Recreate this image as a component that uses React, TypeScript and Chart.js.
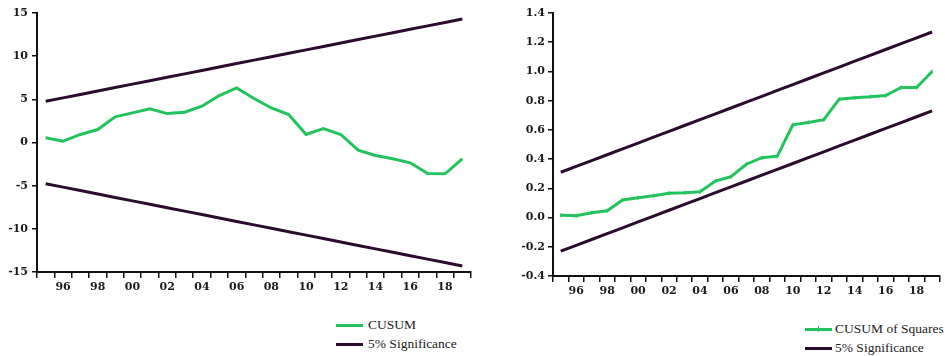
import React, { useEffect, useRef } from 'react';
import { Chart, registerables } from 'chart.js';

Chart.register(...registerables);

// ---------- data ----------
const years = [
  1995, 1996, 1997, 1998, 1999, 2000, 2001, 2002, 2003, 2004, 2005, 2006, 2007,
  2008, 2009, 2010, 2011, 2012, 2013, 2014, 2015, 2016, 2017, 2018, 2019,
];

const cusum = [
  0.54, 0.15, 0.93, 1.5, 2.97, 3.43, 3.9, 3.35, 3.5, 4.2, 5.44, 6.33, 5.1,
  4.0, 3.24, 0.93, 1.62, 0.93, -0.89, -1.5, -1.89, -2.35, -3.59, -3.63, -1.89,
];
const cusumUpper = [
  4.77, 5.17, 5.56, 5.96, 6.36, 6.76, 7.15, 7.55, 7.95, 8.35, 8.74, 9.14, 9.54,
  9.94, 10.33, 10.73, 11.13, 11.53, 11.92, 12.32, 12.72, 13.12, 13.51, 13.91, 14.31,
];
const cusumLower = [
  -4.77, -5.17, -5.56, -5.96, -6.36, -6.76, -7.15, -7.55, -7.95, -8.35, -8.74, -9.14, -9.54,
  -9.94, -10.33, -10.73, -11.13, -11.53, -11.92, -12.32, -12.72, -13.12, -13.51, -13.91, -14.31,
];

const cusumSq = [
  0.015, 0.013, 0.033, 0.047, 0.12, 0.136, 0.15, 0.166, 0.17, 0.177, 0.25, 0.28, 0.365,
  0.41, 0.42, 0.635, 0.65, 0.67, 0.81, 0.82, 0.826, 0.835, 0.89, 0.89, 1.0,
];
const sqUpper = [
  0.31, 0.35, 0.39, 0.43, 0.47, 0.51, 0.55, 0.59, 0.63, 0.67, 0.71, 0.75, 0.79,
  0.83, 0.87, 0.91, 0.95, 0.99, 1.03, 1.07, 1.11, 1.15, 1.19, 1.23, 1.27,
];
const sqLower = [
  -0.23, -0.19, -0.15, -0.11, -0.07, -0.03, 0.01, 0.05, 0.09, 0.13, 0.17, 0.21, 0.25,
  0.29, 0.33, 0.37, 0.41, 0.45, 0.49, 0.53, 0.57, 0.61, 0.65, 0.69, 0.73,
];

const leftLegend = ['CUSUM', '5% Significance'];
const rightLegend = ['CUSUM of Squares', '5% Significance'];

// ---------- style ----------
const GREEN = '#22c35c';
const DARK = '#2a0c2c';
const TEXT = '#1a1a1a';
const TICK_FONT = { family: '"DejaVu Serif", "Liberation Serif", serif', size: 11, weight: 'bold' as const };

function yearLabel(v: number): string {
  if (v % 2 === 1) return '';
  return String(v % 100).padStart(2, '0');
}

function buildOptions(opts: {
  yMin: number; yMax: number; step: number; yWidth: number; xHeight: number;
  padRight: number; fmt: (v: number) => string; yPad: number;
}) {
  return {
    responsive: false,
    animation: false as const,
    layout: { padding: { top: 13, right: opts.padRight, bottom: 0, left: 0 } },
    plugins: { legend: { display: false }, tooltip: { enabled: false } },
    scales: {
      x: {
        type: 'category' as const,
        offset: true,
        grid: {
          offset: true,
          drawOnChartArea: false,
          drawTicks: true,
          tickLength: 6,
          color: '#111',
          lineWidth: 1.5,
        },
        border: { display: true, color: '#111', width: 2 },
        ticks: {
          autoSkip: false,
          maxRotation: 0,
          padding: 3,
          color: TEXT,
          font: TICK_FONT,
          callback: function (this: any, _v: any, i: number) {
            return yearLabel(years[i]);
          },
        },
        afterFit: (s: any) => { s.height = opts.xHeight; },
      },
      y: {
        type: 'linear' as const,
        min: opts.yMin,
        max: opts.yMax,
        grid: {
          drawOnChartArea: false,
          drawTicks: true,
          tickLength: 5,
          color: '#111',
          lineWidth: 1.5,
        },
        border: { display: true, color: '#111', width: 2 },
        ticks: {
          stepSize: opts.step,
          padding: opts.yPad,
          color: TEXT,
          font: TICK_FONT,
          callback: (v: any) => opts.fmt(Number(v)),
        },
        afterFit: (s: any) => { s.width = opts.yWidth; },
      },
    },
  };
}

function LeftChart() {
  const ref = useRef<HTMLCanvasElement | null>(null);
  useEffect(() => {
    if (!ref.current) return;
    const chart = new Chart(ref.current, {
      type: 'line',
      data: {
        labels: years.map(String),
        datasets: [
          { label: leftLegend[0], data: cusum, borderColor: GREEN, borderWidth: 3, pointRadius: 0, tension: 0 },
          { label: leftLegend[1], data: cusumUpper, borderColor: DARK, borderWidth: 3, pointRadius: 0 },
          { label: leftLegend[1], data: cusumLower, borderColor: DARK, borderWidth: 3, pointRadius: 0 },
        ],
      },
      options: buildOptions({
        yMin: -15, yMax: 15, step: 5, yWidth: 37, xHeight: 28, padRight: 9, yPad: 4,
        fmt: (v) => String(Math.round(v)),
      }) as any,
    });
    return () => chart.destroy();
  }, []);
  return (
    <canvas ref={ref} width={480} height={300}
      style={{ position: 'absolute', left: 0, top: 0, width: 480, height: 300 }} />
  );
}

function RightChart() {
  const ref = useRef<HTMLCanvasElement | null>(null);
  useEffect(() => {
    if (!ref.current) return;
    const chart = new Chart(ref.current, {
      type: 'line',
      data: {
        labels: years.map(String),
        datasets: [
          {
            label: rightLegend[0], data: cusumSq, borderColor: GREEN, borderWidth: 3,
            pointStyle: 'line', rotation: 90, pointRadius: 2, pointBorderWidth: 1.2,
            pointBorderColor: GREEN, tension: 0,
          },
          { label: rightLegend[1], data: sqUpper, borderColor: DARK, borderWidth: 3, pointRadius: 0 },
          { label: rightLegend[1], data: sqLower, borderColor: DARK, borderWidth: 3, pointRadius: 0 },
        ],
      },
      options: buildOptions({
        yMin: -0.4, yMax: 1.4, step: 0.2, yWidth: 73, xHeight: 24, padRight: 0, yPad: 3,
        fmt: (v) => (Math.abs(v) < 1e-9 ? 0 : v).toFixed(1),
      }) as any,
    });
    return () => chart.destroy();
  }, []);
  return (
    <canvas ref={ref} width={465} height={300}
      style={{ position: 'absolute', left: 480, top: 0, width: 465, height: 300 }} />
  );
}

const legendText: React.CSSProperties = {
  position: 'absolute',
  fontFamily: '"Liberation Serif", "Times New Roman", serif',
  fontSize: 13.5,
  color: '#222',
  height: 18,
  lineHeight: '18px',
  whiteSpace: 'nowrap',
};

function LegendRow(props: { x: number; y: number; color: string; text: string; marker?: boolean; gap: number }) {
  const { x, y, color, text, marker, gap } = props;
  return (
    <>
      <div style={{ position: 'absolute', left: x, top: y - 1.5, width: 27, height: 3, background: color }} />
      {marker ? (
        <div style={{ position: 'absolute', left: x + 12.5, top: y - 3, width: 1.5, height: 6, background: color }} />
      ) : null}
      <div style={{ ...legendText, left: x + 27 + gap, top: y - 9 }}>{text}</div>
    </>
  );
}

export default function App() {
  return (
    <div style={{ position: 'absolute', left: 0, top: 0, width: 945, height: 356, background: '#fff', overflow: 'hidden' }}>
      <LeftChart />
      <RightChart />
      <LegendRow x={336} y={325} color={GREEN} text={leftLegend[0]} gap={5} />
      <LegendRow x={336} y={344} color={DARK} text={leftLegend[1]} gap={5} />
      <LegendRow x={805} y={329} color={GREEN} text={rightLegend[0]} marker gap={3} />
      <LegendRow x={805} y={348} color={DARK} text={rightLegend[1]} gap={3} />
    </div>
  );
}
